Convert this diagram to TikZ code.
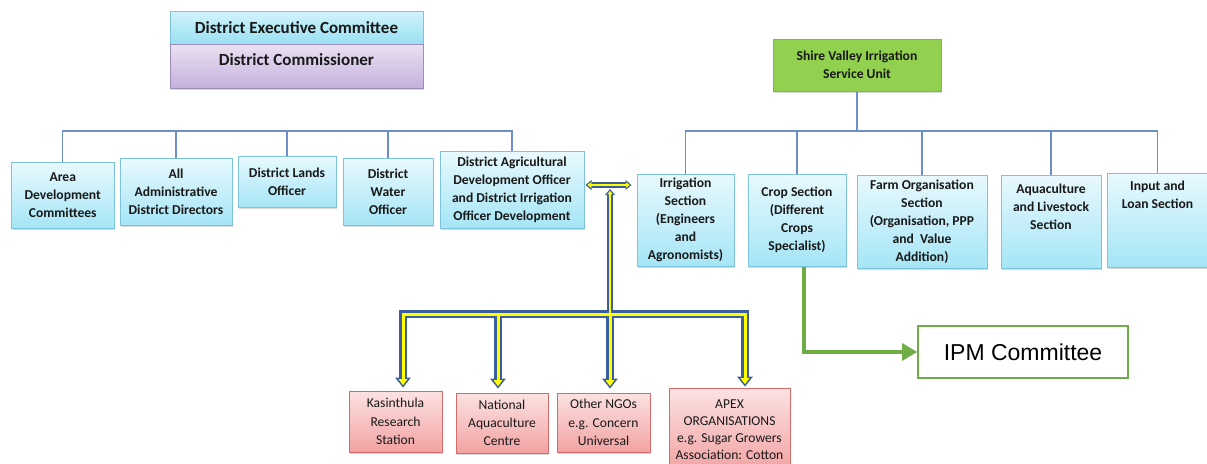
\documentclass[tikz,border=0pt]{standalone}
\usepackage{fontspec}
\setmainfont{Carlito}
\newfontfamily\arialf{Liberation Sans}
\usetikzlibrary{arrows.meta,shadows}
\definecolor{lnblue}{HTML}{6C8EC9}
\definecolor{bbdr}{HTML}{7DC3DC}
\definecolor{btop}{HTML}{E8F9FD}
\definecolor{bbot}{HTML}{A5E5F6}
\definecolor{dtop}{HTML}{D2F3FB}
\definecolor{dbot}{HTML}{98E0F2}
\definecolor{ptop}{HTML}{EAE1F1}
\definecolor{pbot}{HTML}{C6B0DE}
\definecolor{pbdr}{HTML}{9C8CB8}
\definecolor{gfill}{HTML}{92D050}
\definecolor{gbdr}{HTML}{7E9FC8}
\definecolor{rtop}{HTML}{FCE2E2}
\definecolor{rbot}{HTML}{F2A2A2}
\definecolor{rbdr}{HTML}{D46A6A}
\definecolor{ipmg}{HTML}{70AD47}
\definecolor{ablue}{HTML}{3D5E9C}
\definecolor{ayel}{HTML}{FFFF00}
\begin{document}
\begin{tikzpicture}[x=1pt,y=-1pt,
  wh/.style 2 args={minimum width=#1pt, minimum height=#2pt},
  box/.style={rectangle, inner sep=2pt, align=center, text=black!90,
    font=\bfseries\fontsize{13.6}{18}\selectfont,
    drop shadow={shadow xshift=1.2pt, shadow yshift=-1.6pt, opacity=0.3, fill=black!50}},
  bluebox/.style={box, draw=bbdr, line width=1pt, top color=btop, bottom color=bbot},
  pinkbox/.style={box, draw=rbdr, line width=1pt, top color=rtop, bottom color=rbot,
    font=\fontsize{13.6}{18.3}\selectfont},
  conn/.style={draw=lnblue, line width=1.3pt},
  ybl/.style={draw=ablue, line width=7.5pt},
  yin/.style={draw=ayel, line width=3pt},
  sbl/.style={draw=ablue, line width=5.5pt},
  sin/.style={draw=ayel, line width=2.2pt},
  btip/.style={-{Triangle[length=10pt,width=16pt,line width=0pt]}},
  itip/.style={-{Triangle[length=6pt,width=9pt,line width=0pt]}, shorten >=2.4pt},
]
\useasboundingbox (0,0) rectangle (1207,463);
\clip (0,0) rectangle (1207,463);

% top-left header boxes
\node[box, wh={253}{33}, draw=bbdr, line width=1pt, top color=dtop, bottom color=dbot,
  font=\bfseries\fontsize{17}{20}\selectfont] (dec) at (296.5,27.5) {District Executive Committee};
\node[box, wh={253}{44}, draw=pbdr, line width=1pt, top color=ptop, bottom color=pbot,
  font=\bfseries\fontsize{17}{20}\selectfont, text depth=12pt] (com) at (296.5,66) {District Commissioner};

% left row
\node[bluebox, wh={102.5}{66}] (area) at (62.75,195) {Area\\Development\\Committees};
\node[bluebox, wh={112}{67}] (adm) at (176,191.5) {All\\Administrative\\District Directors};
\node[bluebox, wh={98}{51}] (lands) at (287,181.5) {District Lands\\Officer};
\node[bluebox, wh={90}{67}] (water) at (388,191.5) {District\\Water\\Officer};
\node[bluebox, wh={144}{77}] (agr) at (512,189.5) {District Agricultural\\Development Officer\\and District Irrigation\\Officer Development};

% right side
\node[box, wh={168}{52}, draw=gbdr, line width=1pt, fill=gfill] (svisu) at (857,65) {Shire Valley Irrigation\\Service Unit};
\node[bluebox, wh={97}{92}] (irr) at (685.5,220) {Irrigation\\Section\\(Engineers\\and\\Agronomists)};
\node[bluebox, wh={98}{92}] (crop) at (797,220) {Crop Section\\(Different\\Crops\\Specialist)};
\node[bluebox, wh={130}{93}] (farm) at (922,221.5) {Farm Organisation\\Section\\(Organisation, PPP\\and~ Value\\Addition)};
\node[bluebox, wh={100}{93}, text depth=29pt] (aqua) at (1051,221.5) {Aquaculture\\and Livestock\\Section};
\node[bluebox, wh={101}{94}, text depth=50pt] (inp) at (1157.5,220) {Input and\\Loan Section};

% IPM
\node[rectangle, wh={210}{52}, draw=ipmg, line width=2pt, fill=white,
  font=\arialf\fontsize{23}{27}\selectfont] (ipm) at (1023,352) {IPM Committee};

% bottom boxes
\node[pinkbox, wh={93}{61}] (kas) at (395.5,421.5) {Kasinthula\\Research\\Station};
\node[pinkbox, wh={92}{60}] (nat) at (502,423) {National\\Aquaculture\\Centre};
\node[pinkbox, wh={93}{59}] (ngo) at (603.5,422.5) {Other NGOs\\e.g. Concern\\Universal};
\node[pinkbox, wh={121}{84}, font=\fontsize{13.6}{17}\selectfont] (apex) at (729.5,430) {APEX\\ORGANISATIONS\\e.g. Sugar Growers\\Association: Cotton};

% thin blue connectors, left
\coordinate (lbar) at (0,131);
\draw[conn] (area.north) -- (area.north |- lbar) -- (agr.north |- lbar) -- (agr.north);
\draw[conn] (adm.north) -- (adm.north |- lbar);
\draw[conn] (lands.north) -- (lands.north |- lbar);
\draw[conn] (water.north) -- (water.north |- lbar);

% thin blue connectors, right
\coordinate (rbar) at (0,131);
\draw[conn] (svisu.south) -- (svisu.south |- rbar);
\draw[conn] (irr.north) -- (irr.north |- rbar) -- (inp.north |- rbar) -- (inp.north);
\draw[conn] (crop.north) -- (crop.north |- rbar);
\draw[conn] (farm.north) -- (farm.north |- rbar);
\draw[conn] (aqua.north) -- (aqua.north |- rbar);

% yellow/blue double arrows
\coordinate (dbl) at (610,185);
\coordinate (dtop) at (610,189);
\coordinate (jn) at (610,314);
\coordinate (k1) at (403,314);
\coordinate (k2) at (498,314);
\coordinate (k4) at (745,314);

% blue outer layer
\draw[sbl, {Triangle[length=6pt,width=10pt,line width=0pt]}-{Triangle[length=6pt,width=10pt,line width=0pt]}]
  ([xshift=1pt]agr.east |- dbl) -- ([xshift=-5pt]irr.west |- dbl);
\draw[sbl, -{Triangle[length=6pt,width=10pt,line width=0pt]}] (jn) -- (dtop);
\draw[ybl, line cap=rect] (k1) -- (k4);
\draw[ybl, btip] (k1) -- ([yshift=3pt]k1 |- kas.north);
\draw[ybl, btip] (k2) -- ([yshift=4pt]k2 |- nat.north);
\draw[ybl, btip] (jn) -- ([yshift=4pt]jn |- ngo.north);
\draw[ybl, btip] (k4) -- ([yshift=1pt]k4 |- apex.north);

% yellow inner layer
\draw[sin, {Triangle[length=3.5pt,width=5pt,line width=0pt]}-{Triangle[length=3.5pt,width=5pt,line width=0pt]}, shorten <=1.8pt, shorten >=1.8pt]
  ([xshift=1pt]agr.east |- dbl) -- ([xshift=-5pt]irr.west |- dbl);
\draw[sin, -{Triangle[length=3.5pt,width=5pt,line width=0pt]}, shorten >=1.8pt] (jn) -- (dtop);
\draw[yin, line cap=rect] (k1) -- (k4);
\draw[yin, itip] (k1) -- ([yshift=3pt]k1 |- kas.north);
\draw[yin, itip] (k2) -- ([yshift=4pt]k2 |- nat.north);
\draw[yin, itip] (jn) -- ([yshift=4pt]jn |- ngo.north);
\draw[yin, itip] (k4) -- ([yshift=1pt]k4 |- apex.north);

% green arrow to IPM committee
\draw[draw=ipmg, line width=4pt, -{Triangle[length=15pt,width=18pt,line width=0pt]}]
  ([xshift=7pt]crop.south) |- (ipm.west);
\end{tikzpicture}
\end{document}
